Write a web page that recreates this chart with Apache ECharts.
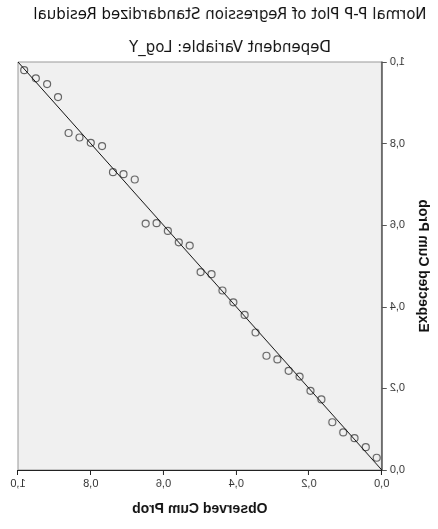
<!DOCTYPE html>
<html>
<head>
<meta charset="utf-8">
<script src="https://cdn.jsdelivr.net/npm/echarts@6/dist/echarts.min.js"></script>
<style>
    html, body { margin: 0; padding: 0; background: #fff; }
    /* the reference is a mirrored SPSS plot, so the whole chart is flipped */
    #chart { width: 438px; height: 529px; transform: scaleX(-1); }
</style>
</head>
<body>
<div id="chart"></div>
<script>
var chartTitle = 'Normal P-P Plot of Regression Standardized Residual';
var chartSubtitle = 'Dependent Variable: Log_Y';

// observed / expected cumulative probability
var observedProb = [0.983, 0.951, 0.920, 0.890, 0.861, 0.831, 0.800, 0.769, 0.739, 0.710, 0.679,
    0.649, 0.619, 0.588, 0.558, 0.528, 0.498, 0.468, 0.438, 0.408, 0.377, 0.347,
    0.317, 0.287, 0.256, 0.226, 0.196, 0.166, 0.136, 0.106, 0.075, 0.044, 0.014];
var expectedProb = [0.980, 0.960, 0.946, 0.914, 0.826, 0.815, 0.802, 0.794, 0.730, 0.725, 0.712,
    0.604, 0.605, 0.586, 0.558, 0.550, 0.485, 0.480, 0.440, 0.411, 0.380, 0.337,
    0.280, 0.271, 0.243, 0.229, 0.194, 0.173, 0.117, 0.092, 0.078, 0.056, 0.030];
var refLineX = [0, 1];
var refLineY = [0, 1];

var fontName = '"Liberation Sans", Arial, sans-serif';
var titleFont = '"DejaVu Sans", sans-serif';

function fmtTick(v) {
    return v.toFixed(1).replace('.', ',');
}

var points = [];
for (var i = 0; i < observedProb.length; i++) {
    points.push([observedProb[i], expectedProb[i]]);
}
var refLine = [];
for (var j = 0; j < refLineX.length; j++) {
    refLine.push([refLineX[j], refLineY[j]]);
}

var chart = echarts.init(document.getElementById('chart'), null, { renderer: 'canvas' });

var option = {
    animation: false,
    textStyle: { fontFamily: fontName },
    graphic: [
        {
            type: 'text', x: 208, y: 15,
            style: { text: chartTitle, fontSize: 15, fontFamily: titleFont, fill: '#111',
                     textAlign: 'center', textVerticalAlign: 'middle' }
        },
        {
            type: 'text', x: 208, y: 48,
            style: { text: chartSubtitle, fontSize: 15, fontFamily: titleFont, fill: '#111',
                     textAlign: 'center', textVerticalAlign: 'middle' }
        }
    ],
    grid: {
        left: 52,
        right: 18,
        top: 62,
        bottom: 59,
        show: true,
        backgroundColor: '#f0f0f0',
        borderColor: '#999',
        borderWidth: 1
    },
    xAxis: {
        type: 'value',
        min: 0,
        max: 1,
        interval: 0.2,
        name: 'Observed Cum Prob',
        nameLocation: 'middle',
        nameGap: 32,
        nameTextStyle: { fontSize: 14, fontWeight: 'bold', color: '#111', fontFamily: fontName },
        axisLine: { show: true, lineStyle: { color: '#222', width: 1 } },
        axisTick: { show: true, length: 5, lineStyle: { color: '#222' } },
        axisLabel: { fontSize: 11, color: '#333', margin: 8, formatter: fmtTick },
        splitLine: { show: false }
    },
    yAxis: {
        type: 'value',
        min: 0,
        max: 1,
        interval: 0.2,
        name: 'Expected Cum Prob',
        nameLocation: 'middle',
        nameGap: 34,
        nameTextStyle: { fontSize: 14, fontWeight: 'bold', color: '#111', fontFamily: fontName },
        axisLine: { show: true, lineStyle: { color: '#555', width: 1.5 } },
        axisTick: { show: true, length: 5, lineStyle: { color: '#555' } },
        axisLabel: { fontSize: 11, color: '#333', margin: 8, formatter: fmtTick },
        splitLine: { show: false }
    },
    series: [
        {
            type: 'line',
            data: refLine,
            symbol: 'none',
            lineStyle: { color: '#111', width: 1 },
            z: 3
        },
        {
            type: 'scatter',
            data: points,
            symbol: 'circle',
            symbolSize: 7,
            itemStyle: { color: 'rgba(0,0,0,0)', borderColor: '#444', borderWidth: 1.2 },
            z: 2
        }
    ]
};
chart.setOption(option);
</script>
</body>
</html>
